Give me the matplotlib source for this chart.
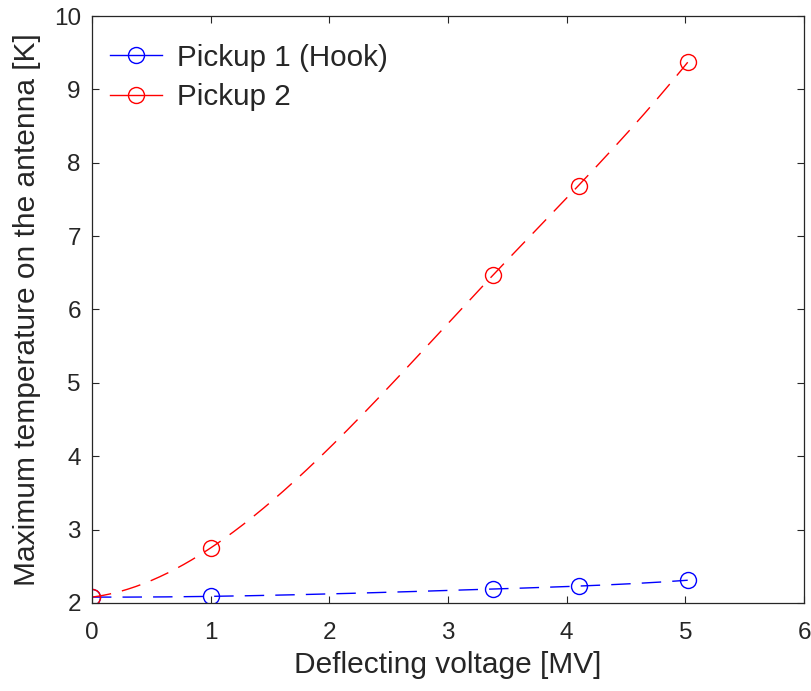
import matplotlib
matplotlib.use("Agg")
import matplotlib.pyplot as plt
from matplotlib.lines import Line2D
import numpy as np

# Data
voltage = [0.0, 1.0, 3.38, 4.1, 5.02]
pickup1 = [2.08, 2.09, 2.19, 2.23, 2.31]
pickup2 = [2.08, 2.75, 6.47, 7.69, 9.37]

LABELS = ["Pickup 1 (Hook)", "Pickup 2"]
COLORS = ["#0000ff", "#ff0000"]
TEXT = "#262626"

plt.rcParams["font.family"] = ["Liberation Sans", "DejaVu Sans"]


def spline_curve(x, y, n=300):
    """Not-a-knot cubic spline through the points (drawing only)."""
    x = np.asarray(x, float)
    y = np.asarray(y, float)
    k = len(x)
    h = np.diff(x)
    A = np.zeros((k, k))
    b = np.zeros(k)
    A[0, 0], A[0, 1], A[0, 2] = h[1], -(h[0] + h[1]), h[0]
    A[-1, -3], A[-1, -2], A[-1, -1] = h[-1], -(h[-2] + h[-1]), h[-2]
    for i in range(1, k - 1):
        A[i, i - 1] = h[i - 1]
        A[i, i] = 2 * (h[i - 1] + h[i])
        A[i, i + 1] = h[i]
        b[i] = 6 * ((y[i + 1] - y[i]) / h[i] - (y[i] - y[i - 1]) / h[i - 1])
    M = np.linalg.solve(A, b)
    xs = np.linspace(x[0], x[-1], n)
    idx = np.clip(np.searchsorted(x, xs) - 1, 0, k - 2)
    x0, x1 = x[idx], x[idx + 1]
    hh = h[idx]
    ys = (M[idx] * (x1 - xs) ** 3 / (6 * hh) + M[idx + 1] * (xs - x0) ** 3 / (6 * hh)
          + (y[idx] / hh - M[idx] * hh / 6) * (x1 - xs)
          + (y[idx + 1] / hh - M[idx + 1] * hh / 6) * (xs - x0))
    return xs, ys


fig = plt.figure(figsize=(8.11, 6.91), dpi=100)
ax = fig.add_axes([0.1134, 0.1274, 0.878, 0.8494])

handles = []
for series, color, label in zip([pickup1, pickup2], COLORS, LABELS):
    xs, ys = spline_curve(voltage, series)
    ax.plot(xs, ys, color=color, lw=1.0, dashes=(14, 8))
    ax.plot(voltage, series, "o", color=color, mfc="none", ms=11.5, mew=1.0)
    handles.append(Line2D([], [], color=color, lw=1.0, marker="o", mfc="none",
                          ms=11.5, mew=1.0, label=label))

ax.set_xlim(0, 6)
ax.set_ylim(2, 10)
ax.set_xticks(range(0, 7))
ax.set_yticks(range(2, 11))

ax.set_xlabel("Deflecting voltage [MV]", fontsize=21.5, color=TEXT, labelpad=5)
ax.set_ylabel("Maximum temperature on the antenna [K]", fontsize=21.5, color=TEXT,
              labelpad=9)

ax.tick_params(direction="in", top=True, right=True, length=5, width=0.8,
               labelsize=17.5, colors=TEXT)
ax.tick_params(axis="x", pad=14)
ax.tick_params(axis="y", pad=8)
for sp in ax.spines.values():
    sp.set_color(TEXT)
    sp.set_linewidth(0.9)

ax.legend(handles=handles, loc="upper left", bbox_to_anchor=(0.025, 0.953),
          frameon=False, fontsize=21.3, borderpad=0, borderaxespad=0,
          handlelength=1.76, handletextpad=0.5, labelspacing=0.39,
          labelcolor=TEXT)

fig.savefig("out.png", dpi=100)
